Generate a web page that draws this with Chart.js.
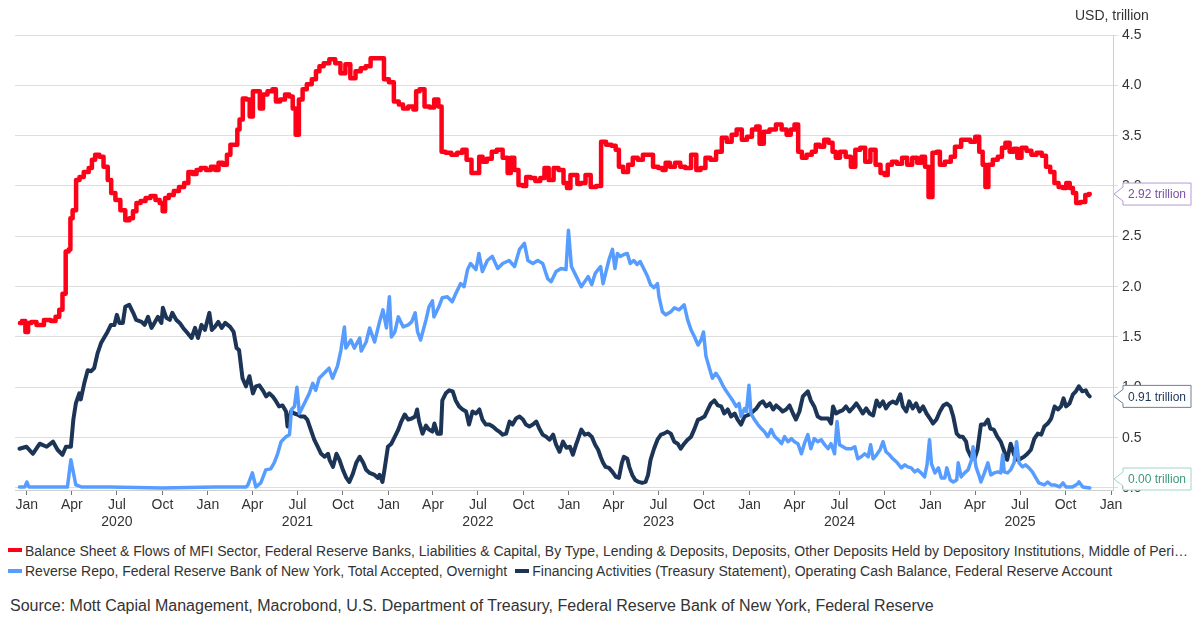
<!DOCTYPE html>
<html>
<head>
<meta charset="utf-8">
<script src="https://cdn.jsdelivr.net/npm/chart.js@4.4.1/dist/chart.umd.min.js"></script>
<style>
  body { margin: 0; background: #fff; font-family: "Liberation Sans", Arial, sans-serif; color: #333; }
  #wrap { position: absolute; left: 0; top: 0; width: 1200px; height: 527px; }
  .leg { position: absolute; left: 8px; font-size: 14px; line-height: 16px; white-space: nowrap; color: #333; }
  .sw { display: inline-block; width: 14px; height: 4px; vertical-align: middle; margin-right: 3px; position: relative; top: -1px; }
  .cut { display: inline-block; max-width: 1166px; overflow: hidden; text-overflow: ellipsis; vertical-align: middle; }
  #source { position: absolute; left: 10px; top: 597px; font-size: 16px; color: #333; white-space: nowrap; }
</style>
</head>
<body>
<div id="wrap"><canvas id="fedChart" width="1200" height="527"></canvas></div>
<div class="leg" style="top:542px;"><span class="sw" style="background:#ff0019"></span><span class="cut">Balance Sheet &amp; Flows of MFI Sector, Federal Reserve Banks, Liabilities &amp; Capital, By Type, Lending &amp; Deposits, Deposits, Other Deposits Held by Depository Institutions, Middle of Period, Wednesday</span></div>
<div class="leg" style="top:563px;"><span class="sw" style="background:#579cff"></span>Reverse Repo, Federal Reserve Bank of New York, Total Accepted, Overnight<span class="sw" style="background:#1c3557; margin-left:8px"></span>Financing Activities (Treasury Statement), Operating Cash Balance, Federal Reserve Account</div>
<div id="source">Source: Mott Capial Management, Macrobond, U.S. Department of Treasury, Federal Reserve Bank of New York, Federal Reserve</div>

<script>
// Reserve balances held at the Fed (red), USD trillion
const reserveDates = ['2019-12-18','2019-12-26','2020-01-01','2020-01-06','2020-01-14','2020-01-27','2020-02-13','2020-02-24','2020-03-03','2020-03-10','2020-03-16','2020-03-23','2020-03-28','2020-03-30','2020-04-06','2020-04-13','2020-04-20','2020-04-30','2020-05-10','2020-05-13','2020-05-23','2020-05-30','2020-06-09','2020-06-16','2020-06-23','2020-07-03','2020-07-13','2020-07-23','2020-07-30','2020-08-06','2020-08-13','2020-08-23','2020-09-02','2020-09-12','2020-09-22','2020-09-29','2020-10-04','2020-10-09','2020-10-19','2020-10-29','2020-11-09','2020-11-19','2020-11-26','2020-12-06','2020-12-12','2020-12-23','2021-01-02','2021-01-12','2021-01-19','2021-01-26','2021-02-05','2021-02-12','2021-02-19','2021-02-28','2021-03-03','2021-03-09','2021-03-16','2021-03-23','2021-03-30','2021-04-05','2021-04-12','2021-04-20','2021-04-25','2021-05-08','2021-05-15','2021-05-22','2021-06-01','2021-06-11','2021-06-18','2021-06-25','2021-06-30','2021-07-08','2021-07-15','2021-07-25','2021-08-04','2021-08-11','2021-08-18','2021-08-28','2021-09-10','2021-09-21','2021-10-01','2021-10-11','2021-10-21','2021-11-01','2021-11-11','2021-11-21','2021-12-01','2021-12-18','2021-12-28','2022-01-07','2022-01-17','2022-01-27','2022-02-03','2022-02-17','2022-02-24','2022-02-28','2022-03-10','2022-03-20','2022-03-31','2022-04-07','2022-04-17','2022-04-20','2022-05-03','2022-05-13','2022-05-27','2022-06-03','2022-06-13','2022-06-23','2022-06-30','2022-07-07','2022-07-14','2022-07-24','2022-08-03','2022-08-13','2022-08-27','2022-09-02','2022-09-09','2022-09-16','2022-09-26','2022-10-03','2022-10-10','2022-10-20','2022-10-30','2022-11-09','2022-11-16','2022-11-26','2022-12-06','2022-12-16','2022-12-26','2022-12-30','2023-01-09','2023-01-15','2023-01-21','2023-01-29','2023-02-09','2023-02-19','2023-03-03','2023-03-11','2023-03-23','2023-04-02','2023-04-09','2023-04-15','2023-04-26','2023-05-05','2023-05-15','2023-05-25','2023-06-05','2023-06-15','2023-06-25','2023-07-06','2023-07-12','2023-07-19','2023-07-29','2023-08-09','2023-08-19','2023-08-29','2023-09-12','2023-09-19','2023-09-29','2023-10-09','2023-10-19','2023-11-01','2023-11-11','2023-11-21','2023-12-01','2023-12-11','2023-12-22','2024-01-01','2024-01-11','2024-01-18','2024-01-25','2024-02-04','2024-02-17','2024-03-01','2024-03-11','2024-03-21','2024-03-28','2024-04-05','2024-04-12','2024-04-20','2024-05-01','2024-05-11','2024-05-17','2024-05-27','2024-06-04','2024-06-14','2024-06-20','2024-06-27','2024-07-07','2024-07-20','2024-07-28','2024-08-07','2024-08-17','2024-08-27','2024-09-07','2024-09-17','2024-09-27','2024-10-03','2024-10-10','2024-10-20','2024-10-30','2024-11-10','2024-11-20','2024-11-30','2024-12-10','2024-12-17','2024-12-25','2024-12-31','2025-01-10','2025-01-17','2025-01-23','2025-02-06','2025-02-16','2025-02-23','2025-03-01','2025-03-07','2025-03-17','2025-03-28','2025-04-06','2025-04-13','2025-04-20','2025-04-24','2025-05-02','2025-05-12','2025-05-22','2025-05-29','2025-06-05','2025-06-15','2025-06-22','2025-06-29','2025-07-09','2025-07-19','2025-07-29','2025-08-09','2025-08-19','2025-08-26','2025-09-05','2025-09-12','2025-09-22','2025-09-29','2025-10-06','2025-10-13','2025-10-19','2025-10-26','2025-11-05','2025-11-15','2025-11-19'];
const reserveValues = [1.64,1.66,1.55,1.64,1.65,1.62,1.67,1.66,1.70,1.77,1.93,2.35,2.37,2.68,2.76,3.06,3.09,3.14,3.18,3.26,3.31,3.29,3.19,3.06,2.93,2.86,2.76,2.66,2.68,2.75,2.83,2.85,2.88,2.90,2.86,2.83,2.75,2.88,2.91,2.95,2.99,3.03,3.14,3.12,3.16,3.18,3.16,3.19,3.16,3.23,3.21,3.31,3.41,3.41,3.56,3.66,3.87,3.86,3.69,3.94,3.94,3.77,3.91,3.94,3.96,3.84,3.86,3.91,3.89,3.77,3.51,3.86,3.96,4.01,4.06,4.14,4.19,4.22,4.26,4.22,4.12,4.21,4.07,4.14,4.17,4.19,4.27,4.27,4.06,4.03,3.84,3.81,3.77,3.79,3.76,3.94,3.96,3.79,3.78,3.86,3.79,3.34,3.33,3.31,3.33,3.36,3.26,3.13,3.13,3.29,3.24,3.27,3.34,3.36,3.28,3.13,3.28,3.16,3.01,3.00,3.09,3.08,3.05,3.08,3.18,3.06,3.18,3.16,3.03,2.98,3.11,3.11,3.02,3.03,3.11,2.99,3.00,3.44,3.41,3.40,3.36,3.19,3.14,3.21,3.28,3.26,3.31,3.31,3.19,3.18,3.16,3.23,3.19,3.23,3.19,3.18,3.31,3.16,3.18,3.28,3.26,3.34,3.48,3.44,3.51,3.56,3.46,3.49,3.56,3.59,3.42,3.54,3.56,3.61,3.56,3.51,3.56,3.61,3.34,3.28,3.31,3.34,3.41,3.39,3.46,3.43,3.34,3.28,3.34,3.29,3.19,3.36,3.38,3.24,3.36,3.21,3.13,3.11,3.21,3.24,3.22,3.28,3.21,3.28,3.23,3.29,3.19,2.89,3.33,3.34,3.21,3.24,3.29,3.39,3.39,3.46,3.46,3.44,3.49,3.34,3.21,2.99,3.21,3.26,3.29,3.38,3.43,3.34,3.37,3.28,3.38,3.35,3.31,3.33,3.30,3.19,3.14,3.03,2.99,2.98,3.03,2.98,2.93,2.83,2.84,2.91,2.92];

// Overnight reverse repo (light blue)
const repoDates = ['2019-12-17','2019-12-28','2020-01-01','2020-01-05','2020-03-23','2020-03-30','2020-04-09','2020-04-20','2020-06-15','2020-10-01','2021-01-15','2021-03-19','2021-03-23','2021-04-01','2021-04-08','2021-04-18','2021-04-28','2021-05-08','2021-05-15','2021-05-22','2021-05-29','2021-06-08','2021-06-15','2021-06-19','2021-06-25','2021-06-30','2021-07-05','2021-07-15','2021-07-25','2021-08-01','2021-08-07','2021-08-14','2021-08-24','2021-09-03','2021-09-10','2021-09-20','2021-09-27','2021-10-04','2021-10-07','2021-10-17','2021-10-24','2021-11-04','2021-11-07','2021-11-17','2021-11-24','2021-12-04','2021-12-14','2021-12-21','2021-12-28','2022-01-03','2022-01-07','2022-01-14','2022-01-21','2022-01-31','2022-02-10','2022-02-17','2022-02-24','2022-03-01','2022-03-07','2022-03-18','2022-03-24','2022-03-31','2022-04-03','2022-04-13','2022-04-20','2022-04-30','2022-05-10','2022-05-17','2022-05-27','2022-06-03','2022-06-10','2022-06-16','2022-06-27','2022-07-03','2022-07-10','2022-07-20','2022-07-30','2022-08-10','2022-08-20','2022-09-02','2022-09-13','2022-09-23','2022-10-03','2022-10-10','2022-10-20','2022-10-30','2022-11-09','2022-11-19','2022-11-26','2022-12-06','2022-12-16','2022-12-26','2022-12-31','2023-01-06','2023-01-19','2023-01-26','2023-02-02','2023-02-09','2023-02-16','2023-02-23','2023-03-01','2023-03-06','2023-03-11','2023-03-16','2023-03-23','2023-03-30','2023-04-04','2023-04-09','2023-04-15','2023-04-22','2023-04-29','2023-05-05','2023-05-12','2023-05-19','2023-05-25','2023-06-02','2023-06-09','2023-06-15','2023-06-22','2023-06-29','2023-07-02','2023-07-09','2023-07-16','2023-07-26','2023-08-02','2023-08-12','2023-08-22','2023-08-29','2023-09-05','2023-09-12','2023-09-19','2023-09-25','2023-09-30','2023-10-05','2023-10-12','2023-10-18','2023-10-25','2023-11-01','2023-11-08','2023-11-14','2023-11-21','2023-11-28','2023-12-05','2023-12-11','2023-12-15','2023-12-22','2023-12-26','2023-12-31','2024-01-04','2024-01-11','2024-01-18','2024-01-25','2024-01-31','2024-02-07','2024-02-14','2024-02-21','2024-02-28','2024-03-06','2024-03-12','2024-03-19','2024-03-26','2024-04-01','2024-04-08','2024-04-15','2024-04-21','2024-04-28','2024-05-04','2024-05-11','2024-05-18','2024-05-25','2024-06-01','2024-06-08','2024-06-14','2024-06-21','2024-06-26','2024-07-01','2024-07-08','2024-07-15','2024-07-25','2024-08-01','2024-08-07','2024-08-14','2024-08-21','2024-08-28','2024-09-02','2024-09-07','2024-09-14','2024-09-21','2024-09-27','2024-10-03','2024-10-10','2024-10-17','2024-10-26','2024-11-03','2024-11-10','2024-11-16','2024-11-23','2024-11-30','2024-12-06','2024-12-13','2024-12-20','2024-12-25','2024-12-30','2025-01-03','2025-01-10','2025-01-17','2025-01-23','2025-01-30','2025-02-03','2025-02-10','2025-02-16','2025-02-23','2025-02-26','2025-03-04','2025-03-11','2025-03-18','2025-03-25','2025-03-28','2025-04-03','2025-04-10','2025-04-13','2025-04-20','2025-04-27','2025-05-03','2025-05-10','2025-05-17','2025-05-23','2025-05-27','2025-05-30','2025-06-06','2025-06-12','2025-06-19','2025-06-24','2025-06-29','2025-07-06','2025-07-12','2025-07-19','2025-07-26','2025-08-02','2025-08-08','2025-08-19','2025-08-26','2025-09-02','2025-09-09','2025-09-19','2025-09-26','2025-10-02','2025-10-15','2025-10-25','2025-10-28','2025-11-05','2025-11-19'];
const repoValues = [0.01,0.01,0.06,0.01,0.01,0.28,0.03,0.01,0.01,0.00,0.01,0.01,0.03,0.15,0.01,0.05,0.18,0.19,0.25,0.34,0.46,0.51,0.53,0.78,0.81,1.00,0.74,0.84,0.94,1.04,0.97,1.09,1.14,1.19,1.09,1.21,1.37,1.60,1.39,1.47,1.39,1.49,1.36,1.45,1.59,1.45,1.65,1.77,1.59,1.90,1.50,1.55,1.70,1.60,1.62,1.65,1.74,1.55,1.47,1.67,1.80,1.86,1.70,1.80,1.89,1.90,1.85,1.93,2.03,2.00,2.17,2.23,2.17,2.33,2.15,2.26,2.30,2.18,2.23,2.26,2.20,2.37,2.43,2.26,2.23,2.26,2.23,2.08,2.05,2.15,2.18,2.17,2.56,2.20,2.07,2.00,2.05,2.10,2.02,2.13,2.17,2.20,2.03,2.13,2.27,2.37,2.18,2.33,2.30,2.32,2.33,2.23,2.26,2.22,2.25,2.17,2.10,2.02,1.99,2.03,1.90,1.75,1.72,1.75,1.79,1.77,1.82,1.67,1.57,1.50,1.42,1.47,1.55,1.31,1.19,1.09,1.14,1.09,1.02,0.97,0.92,0.87,0.81,0.84,0.71,0.79,0.76,1.02,0.74,0.68,0.63,0.59,0.56,0.51,0.58,0.51,0.48,0.44,0.51,0.46,0.49,0.46,0.44,0.34,0.44,0.53,0.39,0.49,0.46,0.48,0.43,0.39,0.44,0.34,0.66,0.43,0.41,0.39,0.39,0.41,0.29,0.31,0.34,0.31,0.43,0.29,0.33,0.38,0.46,0.36,0.33,0.29,0.25,0.20,0.23,0.21,0.20,0.16,0.18,0.15,0.11,0.23,0.48,0.24,0.15,0.20,0.10,0.10,0.20,0.08,0.06,0.08,0.25,0.11,0.15,0.18,0.28,0.41,0.21,0.11,0.06,0.15,0.25,0.13,0.15,0.16,0.15,0.33,0.16,0.15,0.18,0.25,0.46,0.25,0.21,0.23,0.20,0.16,0.10,0.05,0.03,0.06,0.03,0.03,0.01,0.05,0.01,0.01,0.04,0.06,0.01,0.00];

// Treasury General Account (navy)
const tgaDates = ['2019-12-17','2019-12-31','2020-01-13','2020-01-27','2020-02-10','2020-02-23','2020-03-03','2020-03-13','2020-03-20','2020-03-30','2020-04-04','2020-04-09','2020-04-16','2020-04-19','2020-04-26','2020-05-03','2020-05-10','2020-05-16','2020-05-23','2020-05-30','2020-06-06','2020-06-12','2020-06-19','2020-06-26','2020-07-01','2020-07-06','2020-07-13','2020-07-18','2020-07-26','2020-08-03','2020-08-09','2020-08-20','2020-08-26','2020-09-02','2020-09-09','2020-09-16','2020-09-22','2020-09-29','2020-10-02','2020-10-09','2020-10-16','2020-10-21','2020-10-29','2020-11-05','2020-11-12','2020-11-19','2020-11-29','2020-12-06','2020-12-12','2020-12-19','2020-12-26','2021-01-04','2021-01-09','2021-01-15','2021-01-22','2021-01-29','2021-02-05','2021-02-15','2021-02-22','2021-02-28','2021-03-05','2021-03-12','2021-03-19','2021-03-26','2021-04-02','2021-04-08','2021-04-15','2021-04-22','2021-04-29','2021-05-05','2021-05-12','2021-05-19','2021-05-25','2021-06-01','2021-06-08','2021-06-11','2021-06-18','2021-06-25','2021-07-01','2021-07-08','2021-07-15','2021-07-21','2021-07-28','2021-08-04','2021-08-11','2021-08-18','2021-08-25','2021-09-01','2021-09-04','2021-09-11','2021-09-18','2021-09-24','2021-10-01','2021-10-08','2021-10-14','2021-10-21','2021-10-28','2021-11-04','2021-11-11','2021-11-17','2021-11-24','2021-12-04','2021-12-11','2021-12-14','2021-12-20','2021-12-24','2021-12-31','2022-01-07','2022-01-14','2022-01-21','2022-01-27','2022-02-03','2022-02-10','2022-02-17','2022-02-24','2022-02-28','2022-03-04','2022-03-11','2022-03-18','2022-03-24','2022-03-31','2022-04-04','2022-04-10','2022-04-17','2022-04-20','2022-04-27','2022-05-04','2022-05-11','2022-05-17','2022-05-24','2022-05-31','2022-06-07','2022-06-13','2022-06-20','2022-06-27','2022-07-04','2022-07-10','2022-07-17','2022-07-24','2022-07-31','2022-08-07','2022-08-13','2022-08-20','2022-08-27','2022-09-03','2022-09-09','2022-09-16','2022-09-23','2022-09-30','2022-10-06','2022-10-13','2022-10-20','2022-10-27','2022-11-02','2022-11-09','2022-11-16','2022-11-23','2022-11-30','2022-12-06','2022-12-13','2022-12-20','2022-12-27','2023-01-03','2023-01-09','2023-01-16','2023-01-19','2023-01-26','2023-02-02','2023-02-09','2023-02-16','2023-02-23','2023-03-01','2023-03-06','2023-03-11','2023-03-16','2023-03-23','2023-03-30','2023-04-06','2023-04-12','2023-04-18','2023-04-22','2023-04-29','2023-05-03','2023-05-09','2023-05-15','2023-05-22','2023-05-29','2023-06-05','2023-06-10','2023-06-15','2023-06-22','2023-06-29','2023-07-06','2023-07-12','2023-07-19','2023-07-26','2023-08-02','2023-08-09','2023-08-15','2023-08-22','2023-08-29','2023-09-05','2023-09-12','2023-09-19','2023-09-25','2023-10-02','2023-10-09','2023-10-15','2023-10-22','2023-10-29','2023-11-05','2023-11-11','2023-11-18','2023-11-25','2023-12-02','2023-12-08','2023-12-15','2023-12-22','2024-01-01','2024-01-08','2024-01-15','2024-01-22','2024-01-28','2024-02-04','2024-02-11','2024-02-18','2024-02-24','2024-03-02','2024-03-08','2024-03-15','2024-03-22','2024-03-29','2024-04-04','2024-04-11','2024-04-18','2024-04-28','2024-05-04','2024-05-11','2024-05-18','2024-05-25','2024-06-01','2024-06-08','2024-06-14','2024-06-18','2024-06-24','2024-07-01','2024-07-07','2024-07-14','2024-07-21','2024-07-27','2024-08-04','2024-08-11','2024-08-17','2024-08-24','2024-08-31','2024-09-07','2024-09-14','2024-09-20','2024-09-27','2024-10-03','2024-10-10','2024-10-17','2024-10-24','2024-11-01','2024-11-06','2024-11-13','2024-11-19','2024-11-26','2024-12-03','2024-12-10','2024-12-17','2024-12-24','2024-12-31','2025-01-06','2025-01-13','2025-01-20','2025-01-27','2025-02-03','2025-02-10','2025-02-16','2025-02-23','2025-03-01','2025-03-07','2025-03-14','2025-03-17','2025-03-24','2025-03-31','2025-04-06','2025-04-13','2025-04-20','2025-04-27','2025-05-02','2025-05-09','2025-05-16','2025-05-23','2025-05-29','2025-06-05','2025-06-12','2025-06-19','2025-06-26','2025-07-02','2025-07-09','2025-07-16','2025-07-23','2025-07-30','2025-08-06','2025-08-13','2025-08-19','2025-08-26','2025-09-02','2025-09-09','2025-09-16','2025-09-22','2025-09-27','2025-10-02','2025-10-09','2025-10-16','2025-10-22','2025-10-28','2025-11-04','2025-11-11','2025-11-15','2025-11-19'];
const tgaValues = [0.39,0.41,0.34,0.44,0.41,0.46,0.38,0.33,0.41,0.41,0.68,0.84,0.94,0.88,1.04,1.17,1.16,1.19,1.34,1.44,1.50,1.55,1.62,1.62,1.72,1.64,1.64,1.80,1.82,1.74,1.67,1.65,1.62,1.70,1.59,1.65,1.70,1.64,1.79,1.69,1.67,1.74,1.67,1.64,1.59,1.55,1.49,1.59,1.49,1.62,1.57,1.74,1.57,1.60,1.65,1.59,1.64,1.60,1.55,1.39,1.37,1.09,1.01,1.11,0.94,1.01,1.02,0.97,0.91,0.94,0.91,0.86,0.81,0.82,0.76,0.61,0.76,0.74,0.73,0.71,0.71,0.68,0.58,0.48,0.41,0.34,0.31,0.34,0.28,0.21,0.34,0.28,0.18,0.10,0.06,0.14,0.25,0.31,0.25,0.18,0.15,0.13,0.10,0.13,0.06,0.18,0.41,0.44,0.51,0.58,0.66,0.73,0.68,0.69,0.71,0.78,0.66,0.54,0.62,0.58,0.56,0.64,0.54,0.54,0.87,0.94,0.97,0.96,0.87,0.81,0.78,0.76,0.63,0.76,0.74,0.78,0.68,0.63,0.63,0.61,0.58,0.56,0.53,0.54,0.66,0.63,0.69,0.71,0.68,0.63,0.61,0.63,0.66,0.59,0.53,0.51,0.48,0.53,0.43,0.36,0.46,0.40,0.41,0.33,0.44,0.48,0.58,0.53,0.54,0.51,0.43,0.38,0.31,0.25,0.21,0.20,0.16,0.11,0.10,0.25,0.31,0.29,0.21,0.13,0.08,0.06,0.05,0.06,0.13,0.28,0.39,0.48,0.53,0.54,0.56,0.54,0.46,0.44,0.39,0.44,0.48,0.51,0.59,0.68,0.69,0.71,0.78,0.84,0.87,0.82,0.81,0.74,0.78,0.71,0.74,0.68,0.63,0.71,0.73,0.76,0.79,0.84,0.86,0.81,0.84,0.78,0.82,0.79,0.76,0.78,0.82,0.74,0.68,0.76,0.91,0.96,0.87,0.81,0.71,0.69,0.69,0.69,0.64,0.81,0.74,0.76,0.77,0.81,0.76,0.79,0.84,0.79,0.74,0.79,0.74,0.72,0.87,0.81,0.86,0.79,0.84,0.86,0.84,0.93,0.81,0.76,0.86,0.79,0.84,0.76,0.81,0.74,0.69,0.64,0.68,0.76,0.82,0.84,0.81,0.71,0.54,0.51,0.51,0.46,0.38,0.31,0.29,0.38,0.63,0.63,0.68,0.59,0.58,0.51,0.46,0.38,0.28,0.44,0.33,0.28,0.29,0.31,0.34,0.38,0.49,0.54,0.53,0.61,0.64,0.69,0.81,0.78,0.81,0.89,0.81,0.84,0.93,0.96,1.01,0.96,0.97,0.93,0.91];

const yTicks = [0, 0.5, 1, 1.5, 2, 2.5, 3, 3.5, 4, 4.5];
const quarterLabels = ['Jan', 'Apr', 'Jul', 'Oct'];
const tickYears = [2020, 2021, 2022, 2023, 2024, 2025];
const endLabels = [
    {dataset: 0, text: '2.92 trillion', border: '#b999d6', color: '#7b4fa3'},
    {dataset: 2, text: '0.91 trillion', border: '#6c7f9c', color: '#1c3557'},
    {dataset: 1, text: '0.00 trillion', border: '#a3d6c3', color: '#3e9878'}
]

const toPoints = (dates, values) => dates.map((d, i) => ({x: Date.parse(d), y: values[i]}))

const xTickValues = []
tickYears.forEach(y => {
    for (let m = 0; m < 12; m += 3) xTickValues.push(Date.UTC(y, m, 1))
})
xTickValues.push(Date.UTC(2026, 0, 1))

const FONT = '"Liberation Sans", Arial, sans-serif'

const sidePlugin = {
    id: 'sideLabels',
    afterDraw(chart) {
        const ctx = chart.ctx
        const area = chart.chartArea
        const yScale = chart.scales.y
        ctx.save()
        ctx.font = '14px ' + FONT
        ctx.fillStyle = '#333'
        ctx.textAlign = 'left'
        ctx.textBaseline = 'middle'
        ctx.fillText('USD, trillion', 1075, 16)

        ctx.font = '12px ' + FONT
        endLabels.forEach(lab => {
            const data = chart.data.datasets[lab.dataset].data
            const last = data[data.length - 1]
            let cy = yScale.getPixelForValue(last.y)
            cy = Math.max(area.top + 11, Math.min(area.bottom - 11, cy))
            const left = area.right + 10
            const right = left + 68
            const tip = area.right + 1
            ctx.beginPath()
            ctx.moveTo(left, cy - 11)
            ctx.lineTo(right, cy - 11)
            ctx.lineTo(right, cy + 11)
            ctx.lineTo(left, cy + 11)
            ctx.lineTo(left, cy + 7)
            ctx.lineTo(tip, cy)
            ctx.lineTo(left, cy - 7)
            ctx.closePath()
            ctx.fillStyle = '#fff'
            ctx.fill()
            ctx.strokeStyle = lab.border
            ctx.lineWidth = 1
            ctx.stroke()
            ctx.fillStyle = lab.color
            ctx.fillText(lab.text, left + 5, cy + 1)
        })
        ctx.restore()
    }
}

const ctx = document.getElementById('fedChart')
new Chart(ctx, {
    type: 'line',
    data: {
        datasets: [
            {label: 'Reserves', data: toPoints(reserveDates, reserveValues), borderColor: '#ff0019', borderWidth: 4.5, stepped: 'middle'},
            {label: 'Reverse Repo', data: toPoints(repoDates, repoValues), borderColor: '#579cff', borderWidth: 3.5},
            {label: 'TGA', data: toPoints(tgaDates, tgaValues), borderColor: '#1c3557', borderWidth: 4}
        ]
    },
    options: {
        responsive: false,
        animation: false,
        parsing: false,
        elements: {
            point: {radius: 0},
            line: {tension: 0, borderJoinStyle: 'round', borderCapStyle: 'round', fill: false}
        },
        layout: {padding: {left: 15, top: 35, right: 0, bottom: 0}},
        plugins: {legend: {display: false}, tooltip: {enabled: false}},
        scales: {
            x: {
                type: 'linear',
                min: Date.UTC(2019, 11, 8),
                max: Date.UTC(2026, 0, 5),
                afterBuildTicks: scale => { scale.ticks = xTickValues.map(v => ({value: v})) },
                afterFit: scale => { scale.height = 37 },
                grid: {drawOnChartArea: false, color: '#777', tickLength: 5},
                border: {color: '#cfcfcf'},
                ticks: {
                    autoSkip: false,
                    maxRotation: 0,
                    padding: 2,
                    color: '#333',
                    font: {family: FONT, size: 14, lineHeight: 1.2},
                    callback: value => {
                        const d = new Date(value)
                        const name = quarterLabels[d.getUTCMonth() / 3]
                        if (d.getUTCMonth() === 6) return [name, String(d.getUTCFullYear())]
                        return name
                    }
                }
            },
            y: {
                position: 'right',
                min: -0.02,
                max: 4.5,
                afterBuildTicks: scale => { scale.ticks = yTicks.map(v => ({value: v})) },
                afterFit: scale => { scale.width = 87 },
                grid: {color: '#dedede', tickLength: 5},
                border: {color: '#cfcfcf'},
                ticks: {
                    padding: 4,
                    color: '#333',
                    font: {family: FONT, size: 14},
                    callback: v => v.toFixed(1)
                }
            }
        }
    },
    plugins: [sidePlugin]
})
</script>
</body>
</html>
